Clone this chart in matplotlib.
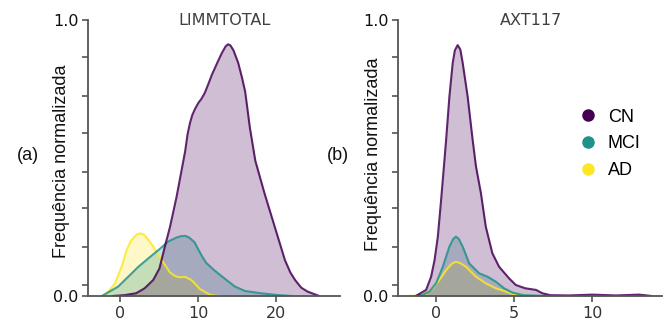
import matplotlib
matplotlib.use("Agg")
import matplotlib.pyplot as plt
from matplotlib.lines import Line2D

# ---------------- data ----------------
groups = ["CN", "MCI", "AD"]
colors = ["#440154", "#21918c", "#fde725"]

# Panel (a): LIMMTOTAL, normalized density curves
lim_cn_x = [-1.0, 0.5, 2.0, 3.1, 4.2, 5.0, 5.7, 6.35, 7.2, 7.8, 8.3, 8.6, 8.9, 9.2, 9.6, 10.0,
            10.4, 10.8, 11.3, 11.7, 12.5, 13.0, 13.5, 13.8, 14.1, 14.5, 15.1, 15.6, 16.0, 16.6,
            17.3, 18.5, 19.8, 21.1, 21.8, 22.4, 23.2, 24.0, 25.5]
lim_cn_y = [0.0, 0.003, 0.01, 0.028, 0.058, 0.10, 0.18, 0.25, 0.36, 0.45, 0.525, 0.585, 0.625,
            0.655, 0.68, 0.70, 0.715, 0.735, 0.77, 0.80, 0.85, 0.88, 0.905, 0.912, 0.908, 0.89,
            0.845, 0.79, 0.74, 0.61, 0.49, 0.37, 0.25, 0.13, 0.085, 0.058, 0.03, 0.016, 0.0]
lim_mci_x = [-2.4, -0.3, 1.0, 2.3, 3.6, 4.9, 6.1, 7.2, 7.8, 8.3, 8.8, 9.5, 10.0, 10.5, 11.0,
             12.0, 13.5, 14.7, 16.0, 18.0, 20.0, 22.0]
lim_mci_y = [0.0, 0.034, 0.07, 0.106, 0.137, 0.167, 0.197, 0.212, 0.217, 0.218, 0.212, 0.195,
             0.168, 0.142, 0.12, 0.094, 0.06, 0.034, 0.018, 0.01, 0.004, 0.0]
lim_ad_x = [-2.0, -0.7, 0.15, 0.8, 1.3, 1.8, 2.2, 2.6, 3.0, 3.4, 4.2, 5.3, 6.35, 7.0, 7.6, 8.3,
            9.1, 10.2, 11.5, 12.5]
lim_ad_y = [0.0, 0.046, 0.106, 0.167, 0.198, 0.215, 0.224, 0.227, 0.222, 0.21, 0.179, 0.13,
            0.085, 0.072, 0.068, 0.069, 0.058, 0.025, 0.004, 0.0]

# Panel (b): AXT117
axt_cn_x = [-1.3, -0.64, -0.32, -0.1, 0.11, 0.32, 0.53, 0.64, 0.85, 1.06, 1.2, 1.38, 1.55, 1.7,
            2.02, 2.34, 2.55, 2.87, 3.18, 3.6, 4.03, 4.67, 5.1, 5.7, 6.4, 6.8, 7.3, 8.5, 10.0,
            11.5, 13.0, 13.8]
axt_cn_y = [0.0, 0.022, 0.07, 0.13, 0.215, 0.348, 0.49, 0.565, 0.722, 0.843, 0.89, 0.909, 0.893,
            0.845, 0.722, 0.565, 0.47, 0.372, 0.251, 0.155, 0.106, 0.064, 0.04, 0.028, 0.022,
            0.01, 0.003, 0.002, 0.005, 0.002, 0.005, 0.0]
axt_mci_x = [-1.3, -0.85, -0.43, 0.0, 0.43, 0.85, 1.1, 1.27, 1.45, 1.7, 2.12, 2.76, 3.29, 3.82,
             4.35, 4.9, 5.6, 7.0]
axt_mci_y = [0.0, 0.004, 0.016, 0.046, 0.106, 0.179, 0.207, 0.215, 0.207, 0.179, 0.118, 0.082,
             0.07, 0.052, 0.028, 0.012, 0.003, 0.0]
axt_ad_x = [-1.8, -1.2, -0.64, -0.21, 0.21, 0.64, 1.0, 1.27, 1.55, 1.91, 2.55, 3.18, 3.82, 4.46,
            5.1, 6.0]
axt_ad_y = [0.0, 0.002, 0.007, 0.028, 0.058, 0.094, 0.117, 0.124, 0.119, 0.106, 0.07, 0.046,
            0.028, 0.016, 0.004, 0.0]

titles = ["LIMMTOTAL", "AXT117"]
panel_tags = ["(a)", "(b)"]
ylabel = "Frequência normalizada"
xticks_a = [0, 10, 20]
xticks_b = [0, 5, 10]
yticks = [0.0, 0.04, 0.1787, 0.3176, 0.4505, 0.589, 0.7258, 0.8647, 1.0]
ytick_labels = ["0.0", "", "", "", "", "", "", "", "1.0"]

# ---------------- figure ----------------
W, H = 665, 323
fig = plt.figure(figsize=(W / 100, H / 100), dpi=100)

def fx(px):
    return px / W

def fy(py):
    return 1 - py / H

ax_a = fig.add_axes([fx(88), fy(296), fx(339.5) - fx(88), fy(20) - fy(296)])
ax_b = fig.add_axes([fx(398), fy(296), fx(662) - fx(398), fy(20) - fy(296)])

panels = [
    (ax_a, [(lim_cn_x, lim_cn_y), (lim_mci_x, lim_mci_y), (lim_ad_x, lim_ad_y)], (-4.17, 28.1), xticks_a),
    (ax_b, [(axt_cn_x, axt_cn_y), (axt_mci_x, axt_mci_y), (axt_ad_x, axt_ad_y)], (-2.44, 14.46), xticks_b),
]

for ax, curves, xlim, xt in panels:
    for (xs, ys), c in reversed(list(zip(curves, colors))):
        ax.fill_between(xs, ys, 0, color=c, alpha=0.25, linewidth=0)
    for (xs, ys), c in reversed(list(zip(curves, colors))):
        ax.plot(xs, ys, color=c, lw=1.5, alpha=0.85, solid_joinstyle="round",
                solid_capstyle="round")
    ax.set_xlim(*xlim)
    ax.set_ylim(0, 1.0)
    ax.set_xticks(xt)
    ax.set_xticklabels([str(v) for v in xt])
    ax.set_yticks(yticks)
    ax.set_yticklabels(ytick_labels)
    for s in ["top", "right"]:
        ax.spines[s].set_visible(False)
    for s in ["left", "bottom"]:
        ax.spines[s].set_color("#555555")
        ax.spines[s].set_linewidth(1.3)
    ax.tick_params(axis="both", length=4, width=1.2, color="#555555")
    ax.tick_params(axis="x", labelsize=11.5, labelcolor="#333333", pad=3)
    ax.tick_params(axis="y", labelsize=11.5, labelcolor="#111111", pad=3)
    for lab in ax.get_xticklabels() + ax.get_yticklabels():
        lab.set_family("DejaVu Sans")

# titles
fig.text(fx(224), fy(20.5), titles[0], ha="center", va="center", fontsize=11.5,
         color="#404040", family="DejaVu Sans")
fig.text(fx(531), fy(20.5), titles[1], ha="center", va="center", fontsize=11.5,
         color="#404040", family="DejaVu Sans")

# y labels
fig.text(fx(61), fy(161), ylabel, rotation=90, ha="center", va="center", fontsize=13,
         family="Liberation Sans", color="#111111")
fig.text(fx(373), fy(154), ylabel, rotation=90, ha="center", va="center", fontsize=13,
         family="Liberation Sans", color="#111111")

# panel tags
fig.text(fx(27.5), fy(155), panel_tags[0], ha="center", va="center", fontsize=13,
         family="Liberation Sans", color="#111111")
fig.text(fx(338), fy(155), panel_tags[1], ha="center", va="center", fontsize=13,
         family="Liberation Sans", color="#111111")

# legend
handles = [Line2D([], [], marker="o", linestyle="none", markersize=8,
                  markerfacecolor=c, markeredgecolor=c) for c in colors]
leg = ax_b.legend(handles, groups, loc="center left",
                  bbox_to_anchor=((568 - 398) / (662 - 398), (296 - 144) / 276),
                  frameon=False, handletextpad=0.5, labelspacing=0.55,
                  prop={"family": "Liberation Sans", "size": 13}, borderpad=0,
                  handlelength=1.2)

fig.savefig("out.png", dpi=100)
